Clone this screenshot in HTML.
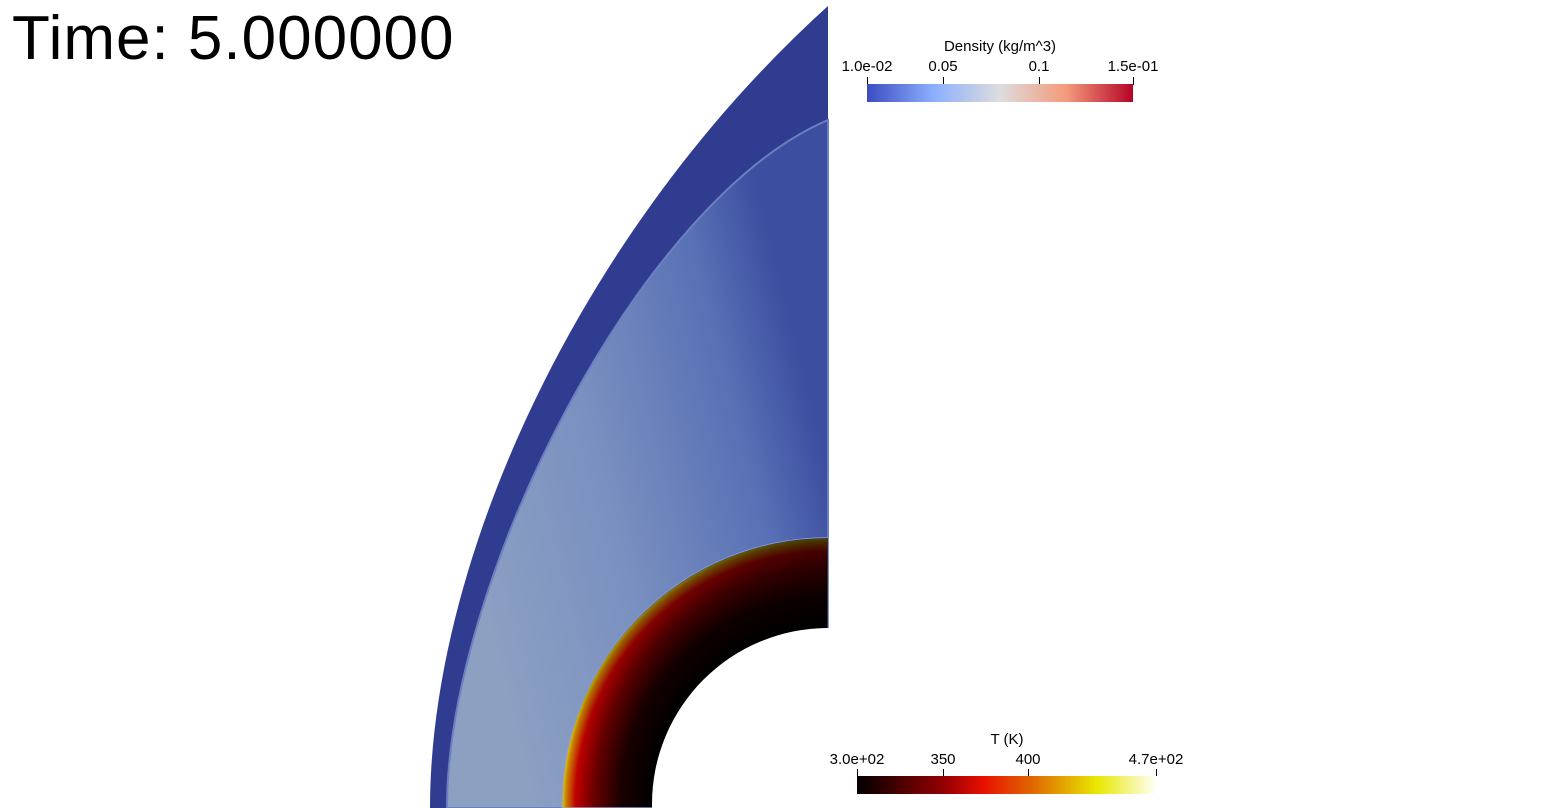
<!DOCTYPE html>
<html><head><meta charset="utf-8"><style>
html,body{margin:0;padding:0;background:#fff;width:1545px;height:808px;overflow:hidden}
svg{display:block}
text{font-family:"Liberation Sans",sans-serif}
</style></head><body>
<svg width="1545" height="808" viewBox="0 0 1545 808">
<defs>
<linearGradient id="gBlue" gradientUnits="userSpaceOnUse" x1="470" y1="560" x2="828" y2="470">
<stop offset="0" stop-color="#8ca0c2"/>
<stop offset="0.4" stop-color="#7a90c0"/>
<stop offset="0.8" stop-color="#5870b5"/>
<stop offset="1" stop-color="#3c4ea0"/>
</linearGradient>
<radialGradient id="gT" gradientUnits="userSpaceOnUse" cx="828" cy="804" r="266">
<stop offset="0.66" stop-color="#000"/>
<stop offset="0.78" stop-color="#1a0000"/>
<stop offset="0.88" stop-color="#6a0000"/>
<stop offset="0.95" stop-color="#c00000"/>
<stop offset="0.985" stop-color="#c88000"/>
<stop offset="1" stop-color="#e0d000"/>
</radialGradient>
<linearGradient id="gShade" gradientUnits="userSpaceOnUse" x1="600" y1="780" x2="828" y2="560">
<stop offset="0" stop-color="#000" stop-opacity="0"/>
<stop offset="0.45" stop-color="#000" stop-opacity="0.3"/>
<stop offset="1" stop-color="#000" stop-opacity="0.65"/>
</linearGradient>
<linearGradient id="gDens" x1="0" x2="1">
<stop offset="0" stop-color="#3b4cc0"/>
<stop offset="0.25" stop-color="#8caffe"/>
<stop offset="0.5" stop-color="#dddddd"/>
<stop offset="0.75" stop-color="#f49a7b"/>
<stop offset="1" stop-color="#b40426"/>
</linearGradient>
<linearGradient id="gTemp" x1="0" x2="1">
<stop offset="0" stop-color="#000"/>
<stop offset="0.3" stop-color="#9a0000"/>
<stop offset="0.42" stop-color="#e81000"/>
<stop offset="0.6" stop-color="#e07000"/>
<stop offset="0.8" stop-color="#e8e800"/>
<stop offset="1" stop-color="#ffffff"/>
</linearGradient>
</defs>
<g>
<path d="M430,808 C430,560 580,230 828,6 L828,808 Z" fill="#303c8f"/>
<path d="M447,808 C447,580 640,200 828,120 L828,808 Z" fill="url(#gBlue)" stroke="#6a80c0" stroke-width="2"/>
<path d="M562,808 L562,804 A266,266 0 0 1 828,538 L828,808 Z" fill="url(#gT)" stroke="#8aa0d0" stroke-width="1.5"/>
<path d="M562,808 L562,804 A266,266 0 0 1 828,538 L828,808 Z" fill="url(#gShade)"/>
<path d="M652,808 L652,804 A176,176 0 0 1 828,628 L830,628 L830,808 Z" fill="#fff"/>
</g>
<text x="12" y="59" font-size="62" letter-spacing="1" fill="#000">Time: 5.000000</text>
<g>
<text x="1000" y="51" font-size="15" text-anchor="middle">Density (kg/m^3)</text>
<text x="867" y="71" font-size="15" text-anchor="middle">1.0e-02</text>
<text x="943" y="71" font-size="15" text-anchor="middle">0.05</text>
<text x="1039" y="71" font-size="15" text-anchor="middle">0.1</text>
<text x="1133" y="71" font-size="15" text-anchor="middle">1.5e-01</text>
<g stroke="#000" stroke-width="1">
<line x1="867.5" y1="77" x2="867.5" y2="85"/><line x1="943.5" y1="77" x2="943.5" y2="85"/>
<line x1="1039.5" y1="77" x2="1039.5" y2="85"/><line x1="1133.5" y1="77" x2="1133.5" y2="85"/>
</g>
<rect x="867" y="84" width="266" height="18" fill="url(#gDens)"/>
</g>
<g>
<text x="1007" y="744" font-size="15" text-anchor="middle">T (K)</text>
<text x="857" y="764" font-size="15" text-anchor="middle">3.0e+02</text>
<text x="943" y="764" font-size="15" text-anchor="middle">350</text>
<text x="1028" y="764" font-size="15" text-anchor="middle">400</text>
<text x="1156" y="764" font-size="15" text-anchor="middle">4.7e+02</text>
<g stroke="#000" stroke-width="1">
<line x1="857.5" y1="769" x2="857.5" y2="777"/><line x1="943.5" y1="769" x2="943.5" y2="777"/>
<line x1="1028.5" y1="769" x2="1028.5" y2="777"/><line x1="1156.5" y1="769" x2="1156.5" y2="777"/>
</g>
<rect x="857" y="776" width="300" height="18" fill="url(#gTemp)"/>
</g>
</svg>
</body></html>
